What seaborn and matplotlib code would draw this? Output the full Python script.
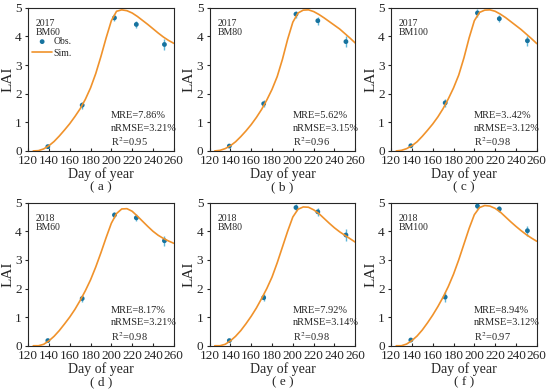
import numpy as np
import pandas as pd
import matplotlib
matplotlib.use("Agg")
import matplotlib.pyplot as plt
import seaborn as sns

sns.set_style("ticks")
plt.rcParams['font.family'] = ['Liberation Serif', 'DejaVu Serif']
plt.rcParams['mathtext.fontset'] = 'stix'

# observed LAI (mean, error) at sampling days
obs_days = [139, 172, 203, 224, 251]
years = ["2017", "2017", "2017", "2018", "2018", "2018"]
treatments = ["BM60", "BM80", "BM100", "BM60", "BM80", "BM100"]
panel_tags = ["( a )", "( b )", "( c )", "( d )", "( e )", "( f )"]

obs_a = [0.15, 1.60, 4.65, 4.42, 3.72]
obs_b = [0.17, 1.65, 4.78, 4.55, 3.82]
obs_c = [0.18, 1.68, 4.82, 4.62, 3.85]
obs_d = [0.18, 1.65, 4.57, 4.47, 3.67]
obs_e = [0.18, 1.68, 4.83, 4.68, 3.87]
obs_f = [0.20, 1.70, 4.88, 4.78, 4.02]

err_a = [0.04, 0.12, 0.12, 0.13, 0.18]
err_b = [0.04, 0.12, 0.12, 0.14, 0.18]
err_c = [0.04, 0.13, 0.13, 0.13, 0.18]
err_d = [0.04, 0.12, 0.10, 0.12, 0.18]
err_e = [0.04, 0.12, 0.12, 0.13, 0.20]
err_f = [0.04, 0.18, 0.10, 0.12, 0.18]

# simulated LAI
sim_days = [125, 130, 135, 140, 145, 150, 155, 160, 165, 170, 175, 180, 185, 190,
            195, 200, 205, 210, 215, 220, 225, 230, 235, 240, 245, 250, 255, 260]
sim_a = [0.0, 0.01, 0.07, 0.18, 0.33, 0.52, 0.73, 0.95, 1.20, 1.47, 1.80, 2.20, 2.70, 3.30,
         3.95, 4.55, 4.88, 4.93, 4.90, 4.82, 4.70, 4.56, 4.42, 4.27, 4.12, 3.98, 3.86, 3.76]
sim_b = [0.0, 0.02, 0.08, 0.18, 0.32, 0.50, 0.70, 0.92, 1.17, 1.45, 1.78, 2.15, 2.60, 3.20,
         3.90, 4.50, 4.82, 4.92, 4.93, 4.87, 4.77, 4.65, 4.52, 4.39, 4.26, 4.10, 3.94, 3.77]
sim_c = [0.0, 0.02, 0.08, 0.18, 0.32, 0.51, 0.72, 0.94, 1.19, 1.48, 1.82, 2.20, 2.65, 3.25,
         3.95, 4.55, 4.84, 4.92, 4.93, 4.88, 4.78, 4.66, 4.52, 4.38, 4.24, 4.08, 3.92, 3.75]
sim_d = [0.0, 0.0, 0.05, 0.17, 0.33, 0.53, 0.76, 1.00, 1.27, 1.58, 1.92, 2.30, 2.75, 3.25,
         3.78, 4.28, 4.62, 4.78, 4.79, 4.70, 4.53, 4.35, 4.17, 4.00, 3.86, 3.75, 3.66, 3.58]
sim_e = [0.0, 0.0, 0.05, 0.17, 0.33, 0.53, 0.77, 1.03, 1.32, 1.65, 2.00, 2.40, 2.90, 3.45,
         4.00, 4.50, 4.77, 4.85, 4.84, 4.75, 4.62, 4.45, 4.28, 4.12, 3.98, 3.86, 3.74, 3.62]
sim_f = [0.0, 0.0, 0.06, 0.18, 0.34, 0.55, 0.80, 1.07, 1.37, 1.70, 2.07, 2.50, 3.00, 3.55,
         4.10, 4.58, 4.83, 4.90, 4.88, 4.80, 4.67, 4.50, 4.33, 4.17, 4.02, 3.88, 3.76, 3.65]

mre = ["7.86%", "5.62%", "3..42%", "8.17%", "7.92%", "8.94%"]
nrmse = ["3.21%", "3.15%", "3.12%", "3.21%", "3.14%", "3.12%"]
r2 = ["0.95", "0.96", "0.98", "0.98", "0.98", "0.97"]

obs_all = [obs_a, obs_b, obs_c, obs_d, obs_e, obs_f]
err_all = [err_a, err_b, err_c, err_d, err_e, err_f]
sim_all = [sim_a, sim_b, sim_c, sim_d, sim_e, sim_f]

obs_col = "#17739f"
err_col = "#5fb6d8"
sim_col = "#f0922b"

fig = plt.figure(figsize=(5.5, 3.92), dpi=100)
lefts = [0.051, 0.381, 0.711]
bottoms = [0.615, 0.118]
w, h = 0.265, 0.365

for i in range(6):
    ax = fig.add_axes([lefts[i % 3], bottoms[i // 3], w, h])
    sim_df = pd.DataFrame({"day": sim_days, "lai": sim_all[i]})
    obs_df = pd.DataFrame({"day": obs_days, "lai": obs_all[i], "err": err_all[i]})
    ax.errorbar(obs_df["day"], obs_df["lai"], yerr=obs_df["err"], fmt="none",
                ecolor=err_col, elinewidth=1.0, capsize=0, zorder=2)
    sns.scatterplot(data=obs_df, x="day", y="lai", ax=ax, color=obs_col, s=12,
                    edgecolor="none", zorder=3, label="Obs." if i == 0 else None)
    sns.lineplot(data=sim_df, x="day", y="lai", ax=ax, color=sim_col, lw=1.2,
                 zorder=4, label="Sim." if i == 0 else None)
    ax.set_xlim(120, 260)
    ax.set_ylim(0, 5)
    ax.set_xticks(range(120, 261, 20))
    ax.set_yticks(range(0, 6))
    ax.tick_params(axis="x", direction="in", length=2.5, labelsize=9.5, pad=3)
    ax.tick_params(axis="y", direction="out", length=2.5, labelsize=9.5, pad=2)
    for s in ax.spines.values():
        s.set_linewidth(0.8)
    ax.set_xlabel("Day of year", fontsize=10, labelpad=0.3)
    ax.set_ylabel("LAI", fontsize=11, labelpad=0.5)
    ax.text(0.5, -0.255, panel_tags[i], transform=ax.transAxes, ha="center",
            va="center", fontsize=9.5)
    ax.text(0.055, 0.888, years[i], transform=ax.transAxes, fontsize=7, va="center")
    ax.text(0.055, 0.825, treatments[i], transform=ax.transAxes, fontsize=7, va="center")
    ax.text(0.57, 0.245, "MRE=" + mre[i], transform=ax.transAxes, fontsize=7.5, va="center")
    ax.text(0.57, 0.16, "nRMSE=" + nrmse[i], transform=ax.transAxes, fontsize=7.5, va="center")
    ax.text(0.57, 0.065, "R$^2$=" + r2[i], transform=ax.transAxes, fontsize=7.5, va="center")
    if i == 0:
        ax.legend(loc="upper left", bbox_to_anchor=(0.03, 0.795), frameon=False,
                  fontsize=7, handlelength=2.0, handletextpad=0.2,
                  labelspacing=0.25, borderaxespad=0, borderpad=0)
    elif ax.get_legend() is not None:
        ax.get_legend().remove()

fig.savefig("out.png", dpi=100)
